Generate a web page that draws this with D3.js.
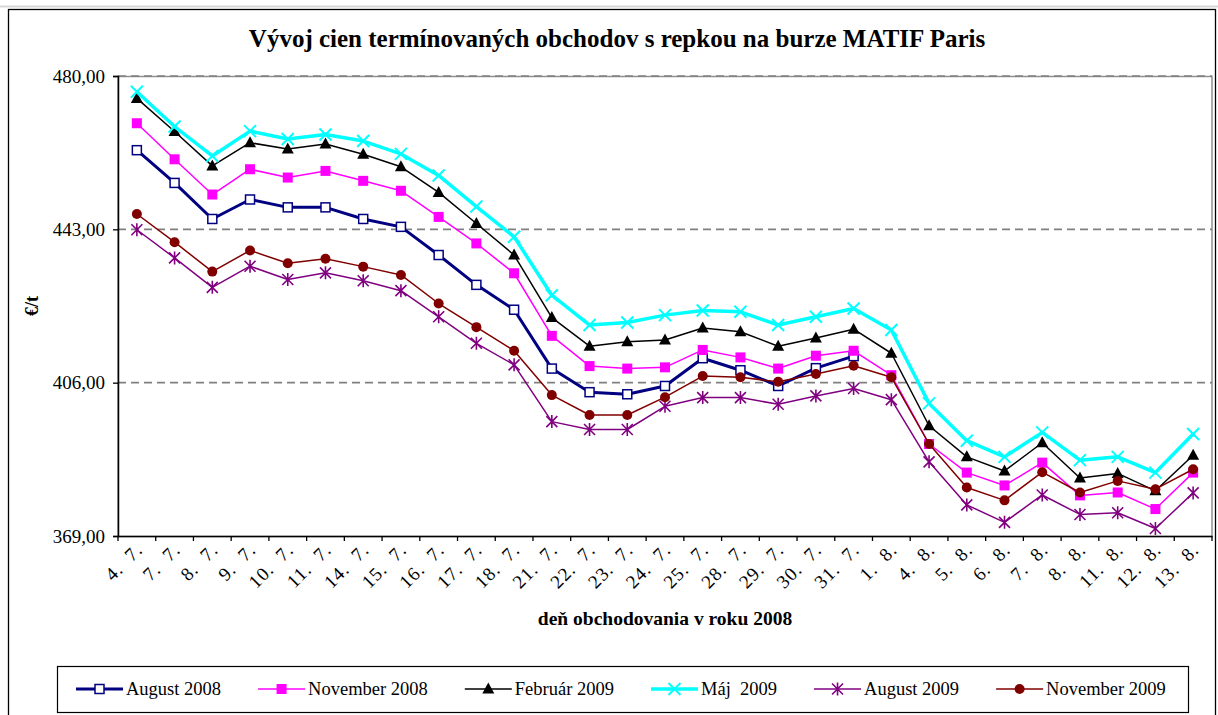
<!DOCTYPE html>
<html>
<head>
<meta charset="utf-8">
<script src="https://cdn.jsdelivr.net/npm/d3@7"></script>
<style>
  html, body { margin: 0; padding: 0; background: #fff; }
  svg { display: block; }
  text { font-family: "Liberation Serif", "Times New Roman", serif; fill: #000; }
</style>
</head>
<body>
<svg id="chart" width="1218" height="715"></svg>
<script>
const categories = ["4. 7.","7. 7.","8. 7.","9. 7.","10. 7.","11. 7.","14. 7.","15. 7.","16. 7.","17. 7.","18. 7.","21. 7.","22. 7.","23. 7.","24. 7.","25. 7.","28. 7.","29. 7.","30. 7.","31. 7.","1. 8.","4. 8.","5. 8.","6. 8.","7. 8.","8. 8.","11. 8.","12. 8.","13. 8."];

const aug2008 = [462.1,454.2,445.5,450.2,448.3,448.3,445.5,443.6,436.8,429.6,423.6,409.4,403.7,403.2,405.2,411.9,409.0,405.2,409.5,412.4];
const nov2008 = [468.6,459.9,451.4,457.5,455.5,457.1,454.7,452.3,446.0,439.6,432.4,417.3,410.0,409.4,409.7,413.9,412.1,409.4,412.5,413.7,407.8,391.2,384.3,381.2,386.7,378.8,379.5,375.5,384.3];
const feb2009 = [474.6,466.6,458.3,463.9,462.4,463.6,461.1,458.1,451.9,444.4,436.8,421.7,414.8,415.9,416.3,419.2,418.3,414.8,416.8,418.9,413.1,395.6,388.1,384.7,391.5,383.0,384.1,379.9,388.5];
const maj2009 = [476.2,467.8,460.7,466.7,464.8,465.9,464.3,461.2,456.0,448.5,441.2,427.1,419.9,420.5,422.3,423.4,423.1,419.9,421.9,423.9,418.7,401.0,392.0,388.1,394.0,387.3,388.1,384.3,393.6];
const aug2009 = [442.9,436.1,429.0,434.1,430.9,432.5,430.6,428.2,421.9,415.5,410.3,396.6,394.7,394.7,400.3,402.4,402.4,400.8,402.8,404.6,401.9,386.9,376.5,372.3,378.9,374.2,374.6,370.8,379.4];
const nov2009 = [446.7,439.9,432.8,437.9,434.8,435.9,434.0,432.0,425.1,419.4,413.7,403.0,398.2,398.2,402.5,407.6,407.3,406.2,408.1,410.1,407.3,391.2,380.7,377.6,384.4,379.5,382.3,380.3,385.1];

const seriesNames = ["August 2008","November 2008","Február 2009","Máj  2009","August 2009","November 2009"];
const yTicks = [369, 406, 443, 480];

const titleText = "Vývoj cien termínovaných obchodov s repkou na burze MATIF Paris";
const xTitle = "deň obchodovania v roku 2008";
const yTitle = "€/t";

const styles = [
  {color:"#000080", width:3,   marker:"squareOpen"},
  {color:"#FF00FF", width:1.5, marker:"square"},
  {color:"#000000", width:1.5, marker:"triangle"},
  {color:"#00FFFF", width:3.5, marker:"x"},
  {color:"#800080", width:1.5, marker:"asterisk"},
  {color:"#800000", width:1.5, marker:"circle"}
];
const seriesData = [aug2008, nov2008, feb2009, maj2009, aug2009, nov2009];

const svg = d3.select("#chart");
const W = 1218, H = 715;
const plot = {left:118, right:1212, top:76, bottom:536};

// outer frame
svg.append("line").attr("x1",0).attr("x2",W).attr("y1",6.5).attr("y2",6.5).attr("stroke","#d8d8d8").attr("stroke-width",2);
svg.append("rect").attr("x",8.5).attr("y",9.5).attr("width",1207).attr("height",720)
  .attr("fill","#fff").attr("stroke","#000").attr("stroke-width",1.3);

// title
svg.append("text").attr("x",617).attr("y",47).attr("text-anchor","middle")
  .attr("font-weight","bold").attr("font-size",25).text(titleText);

const x = d3.scaleBand().domain(categories).range([plot.left, plot.right]).padding(0);
const y = d3.scaleLinear().domain([369,480]).range([plot.bottom, plot.top]);
const cx = c => x(c) + x.bandwidth()/2;

// plot area border (gray)
svg.append("rect").attr("x",plot.left).attr("y",plot.top+0.5)
  .attr("width",plot.right-plot.left).attr("height",plot.bottom-plot.top)
  .attr("fill","none").attr("stroke","#909090").attr("stroke-width",1.5);

// gridlines
svg.append("g").selectAll("line").data(yTicks.filter(t=>t>369)).join("line")
  .attr("x1",plot.left).attr("x2",plot.right)
  .attr("y1",d=>y(d)).attr("y2",d=>y(d))
  .attr("stroke","#808080").attr("stroke-width",1.6).attr("stroke-dasharray","8,5");

// y axis
const yAxis = d3.axisLeft(y).tickValues(yTicks).tickSize(5).tickPadding(8)
  .tickFormat(d => d3.format(".2f")(d).replace(".", ","));
const gy = svg.append("g").attr("transform",`translate(${plot.left},0)`).call(yAxis);
gy.select(".domain").attr("stroke","#000").attr("stroke-width",1.5);
gy.selectAll(".tick line").attr("stroke","#000").attr("stroke-width",1.3);
gy.selectAll(".tick text").attr("font-family","Liberation Serif").attr("font-size",19).attr("fill","#000");

// x axis
const xAxis = d3.axisBottom(x).tickSize(0).tickFormat("");
const gx = svg.append("g").attr("transform",`translate(0,${plot.bottom})`).call(xAxis);
gx.select(".domain").attr("stroke","#000").attr("stroke-width",1.5);
// boundary tick marks
const bounds = categories.map(c => x(c)).concat([plot.right]);
svg.append("g").selectAll("line").data(bounds).join("line")
  .attr("x1",d=>d).attr("x2",d=>d).attr("y1",plot.bottom).attr("y2",plot.bottom+5)
  .attr("stroke","#000").attr("stroke-width",1.3);
// rotated labels
svg.append("g").selectAll("text").data(categories).join("text")
  .attr("text-anchor","end")
  .attr("font-size",19)
  .attr("letter-spacing",1)
  .attr("xml:space","preserve").style("white-space","pre")
  .attr("transform", d => `translate(${cx(d)+7},${plot.bottom+15}) rotate(-45)`)
  .text(d => d.replace(" ", "  "));

// axis titles
svg.append("text").attr("x",(plot.left+plot.right)/2).attr("y",625).attr("text-anchor","middle")
  .attr("font-weight","bold").attr("font-size",19.5).text(xTitle);
svg.append("text").attr("transform",`translate(38,${(plot.top+plot.bottom)/2}) rotate(-90)`)
  .attr("text-anchor","middle").attr("font-weight","bold").attr("font-size",18).text(yTitle);

// marker drawing
function drawMarker(g, type, color) {
  switch(type) {
    case "squareOpen":
      g.append("rect").attr("x",-4.5).attr("y",-4.5).attr("width",9).attr("height",9)
        .attr("fill","#fff").attr("stroke",color).attr("stroke-width",1.5); break;
    case "square":
      g.append("rect").attr("x",-5).attr("y",-5).attr("width",10).attr("height",10).attr("fill",color); break;
    case "triangle":
      g.append("path").attr("d","M0,-6.5L6,4.5L-6,4.5Z").attr("fill",color); break;
    case "x":
      g.append("path").attr("d","M-6,-6L6,6M-6,6L6,-6").attr("stroke",color).attr("stroke-width",2).attr("fill","none"); break;
    case "asterisk":
      g.append("path").attr("d","M-5.5,-5.5L5.5,5.5M-5.5,5.5L5.5,-5.5M0,-6.5L0,6.5").attr("stroke",color).attr("stroke-width",1.6).attr("fill","none"); break;
    case "circle":
      g.append("circle").attr("r",5).attr("fill",color); break;
  }
}

const line = d3.line().x((d,i)=>cx(categories[i])).y(d=>y(d));
seriesData.forEach((data, si) => {
  const st = styles[si];
  const g = svg.append("g");
  g.append("path").datum(data).attr("d",line).attr("fill","none")
    .attr("stroke",st.color).attr("stroke-width",st.width).attr("stroke-linejoin","round");
  g.selectAll("g.m").data(data).join("g").attr("class","m")
    .attr("transform",(d,i)=>`translate(${cx(categories[i])},${y(d)})`)
    .each(function(){ drawMarker(d3.select(this), st.marker, st.color); });
});

// legend
const lg = svg.append("g");
lg.append("rect").attr("x",57.5).attr("y",666.5).attr("width",1131).attr("height",46)
  .attr("fill","#fff").attr("stroke","#000").attr("stroke-width",1.2);
let lx = 76;
const ly = 689;
seriesNames.forEach((name, si) => {
  const st = styles[si];
  lg.append("line").attr("x1",lx).attr("x2",lx+47).attr("y1",ly).attr("y2",ly)
    .attr("stroke",st.color).attr("stroke-width",st.width);
  const mg = lg.append("g").attr("transform",`translate(${lx+23.5},${ly})`);
  drawMarker(mg, st.marker, st.color);
  const t = lg.append("text").attr("x",lx+50).attr("y",ly+6).attr("font-size",18.5)
    .attr("xml:space","preserve").style("white-space","pre").text(name);
  lx = lx + 50 + t.node().getComputedTextLength() + 37;
});
</script>
</body>
</html>
